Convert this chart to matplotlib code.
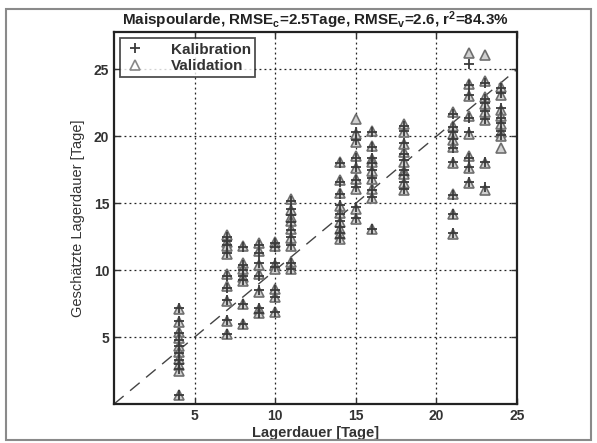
import matplotlib
matplotlib.use("Agg")
import matplotlib.pyplot as plt
from matplotlib.patches import Rectangle

plt.rcParams['font.family'] = ['Liberation Sans', 'DejaVu Sans']
plt.rcParams['mathtext.default'] = 'regular'

# Lagerdauer [Tage] per sample and predicted value (Kalibration)
x_kal = ([4] * 10 + [7] * 9 + [8] * 7 + [9] * 7 + [10] * 7 + [11] * 9 + [14] * 9
         + [15] * 8 + [16] * 9 + [18] * 9 + [21] * 9 + [22] * 8 + [23] * 7 + [24] * 7)
y_kal = [7.2, 6.2, 5.3, 4.8, 4.3, 3.8, 3.3, 3.0, 2.6, 0.7,
         12.5, 12.2, 11.9, 11.3, 9.6, 8.7, 7.8, 6.3, 5.2,
         11.7, 10.4, 10.0, 9.6, 9.3, 7.5, 6.0,
         11.9, 11.3, 10.5, 9.6, 8.5, 7.2, 6.8,
         12.0, 11.7, 10.5, 10.2, 8.5, 8.0, 6.9,
         15.2, 14.6, 14.1, 13.6, 13.0, 12.5, 11.9, 10.5, 10.1,
         18.0, 16.6, 15.7, 14.9, 14.2, 13.7, 13.2, 12.8, 12.4,
         20.3, 19.7, 18.4, 17.7, 16.7, 16.2, 14.7, 13.9,
         20.3, 19.2, 18.4, 18.0, 17.5, 16.9, 16.0, 15.5, 13.1,
         20.8, 20.4, 19.5, 18.7, 18.2, 17.5, 17.1, 16.6, 16.1,
         21.7, 20.7, 20.3, 19.8, 19.1, 18.1, 15.6, 14.2, 12.8,
         25.4, 23.8, 23.1, 21.4, 20.3, 18.4, 17.7, 16.6,
         24.0, 22.8, 22.5, 21.9, 21.3, 18.1, 16.2,
         23.6, 23.2, 22.1, 21.4, 21.0, 20.4, 20.1]

# Validation (cross-validated predictions)
x_val = ([4] * 10 + [7] * 9 + [8] * 7 + [9] * 7 + [10] * 7 + [11] * 9 + [14] * 9
         + [15] * 9 + [16] * 9 + [18] * 9 + [21] * 9 + [22] * 8 + [23] * 8 + [24] * 8)
y_val = [7.1, 6.1, 5.4, 4.9, 4.3, 3.9, 3.4, 2.9, 2.5, 0.7,
         12.6, 12.1, 11.8, 11.2, 9.7, 8.8, 7.7, 6.2, 5.2,
         11.8, 10.5, 10.1, 9.5, 9.2, 7.5, 6.0,
         12.0, 11.4, 10.4, 9.7, 8.4, 7.1, 6.8,
         12.1, 11.8, 10.4, 10.1, 8.6, 8.0, 6.9,
         15.3, 14.5, 14.0, 13.7, 13.1, 12.4, 11.8, 10.6, 10.1,
         18.1, 16.7, 15.8, 14.8, 14.3, 13.6, 13.1, 12.7, 12.3,
         21.3, 20.2, 19.6, 18.5, 17.6, 16.8, 16.1, 14.6, 13.8,
         20.4, 19.3, 18.3, 18.1, 17.4, 16.8, 16.1, 15.4, 13.1,
         20.9, 20.3, 19.4, 18.8, 18.1, 17.4, 17.2, 16.5, 16.0,
         21.8, 20.8, 20.2, 19.7, 19.2, 18.0, 15.7, 14.2, 12.7,
         26.2, 23.9, 23.0, 21.5, 20.2, 18.5, 17.6, 16.5,
         26.1, 24.1, 22.9, 22.4, 21.8, 21.2, 18.0, 16.0,
         23.7, 23.1, 22.0, 21.5, 20.9, 20.3, 20.0, 19.1]

ticks = [5, 10, 15, 20, 25]

fig = plt.figure(figsize=(5.97, 4.43), dpi=100)
fig.patches.append(Rectangle((0.010, 0.007), 0.980, 0.972, transform=fig.transFigure,
                             fill=False, edgecolor='#8a8a8a', linewidth=1.5))
ax = fig.add_axes([0.191, 0.088, 0.675, 0.840])

ax.plot([0, 25], [0, 25], color='#444444', linestyle=(0, (9, 6)), linewidth=1.0, zorder=1)
ax.plot(x_val, y_val, linestyle='none', marker='^', markerfacecolor='#d0d0d0',
        markeredgecolor='#6e6e6e', markersize=7, markeredgewidth=1.2,
        label='Validation', zorder=2)
ax.plot(x_kal, y_kal, linestyle='none', marker='+', color='#3a3a3a',
        markersize=6.5, markeredgewidth=1.3, label='Kalibration', zorder=3)

ax.set_xlim(0, 25)
ax.set_ylim(0, 27.8)
ax.set_xticks(ticks)
ax.set_yticks(ticks)
ax.grid(True, color='#222222', linestyle=(0, (1.5, 2.5)), linewidth=0.9)
ax.tick_params(direction='in', top=True, right=True, length=4, width=1,
               labelsize=10, colors='#333333')
for lab in ax.get_xticklabels() + ax.get_yticklabels():
    lab.set_fontweight('bold')
for sp in ax.spines.values():
    sp.set_linewidth(1.6)
    sp.set_color('#222222')

ax.set_xlabel('Lagerdauer [Tage]', fontsize=10.5, fontweight='bold', color='#333333', labelpad=2)
ax.set_ylabel('Geschätzte Lagerdauer [Tage]', fontsize=10.5, color='#333333', labelpad=6)
ax.set_title('Maispoularde, RMSE$_c$=2.5Tage, RMSE$_v$=2.6, r$^2$=84.3%',
             fontsize=11, fontweight='bold', color='#222222', pad=5)

# legend order: Kalibration first, hollow triangle in the key
handles, labels = ax.get_legend_handles_labels()
leg = ax.legend(handles[::-1], labels[::-1], loc='upper left', frameon=True,
                fancybox=False, fontsize=11, handletextpad=1.6, borderpad=0.3,
                borderaxespad=0.4, handlelength=1.4, labelspacing=0.15)
leg.get_frame().set_edgecolor('#222222')
leg.get_frame().set_linewidth(1.3)
leg.legend_handles[1].set_markerfacecolor('none')
leg.legend_handles[1].set_markeredgecolor('#888888')
for t in leg.get_texts():
    t.set_fontweight('bold')
    t.set_color('#333333')

fig.savefig('out.png', dpi=100)
